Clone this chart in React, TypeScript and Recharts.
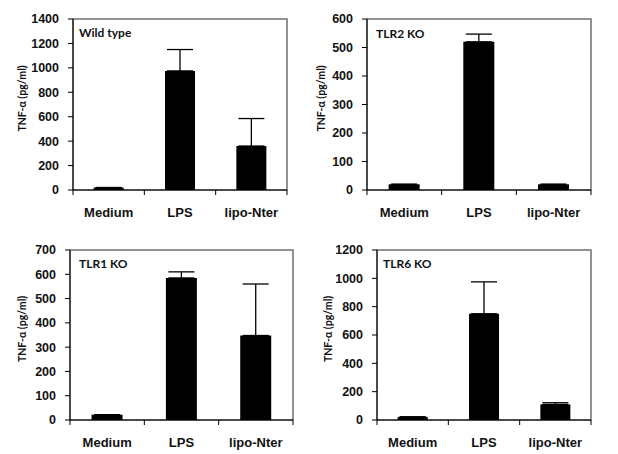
import { BarChart, Bar, XAxis, YAxis, ErrorBar, ReferenceArea } from 'recharts';

const categories = ['Medium', 'LPS', 'lipo-Nter'];

const wildTypeMean = [20, 975, 360];
const wildTypeErr = [0, 175, 225];
const tlr2Mean = [20, 520, 20];
const tlr2Err = [0, 27, 0];
const tlr1Mean = [22, 585, 348];
const tlr1Err = [0, 25, 212];
const tlr6Mean = [22, 750, 110];
const tlr6Err = [0, 225, 12];

const wildTypeTicks = [0, 200, 400, 600, 800, 1000, 1200, 1400];
const tlr2Ticks = [0, 100, 200, 300, 400, 500, 600];
const tlr1Ticks = [0, 100, 200, 300, 400, 500, 600, 700];
const tlr6Ticks = [0, 200, 400, 600, 800, 1000, 1200];

const yLabel = 'TNF-α (pg/ml)';
const numFont = '"Liberation Sans", Arial, sans-serif';
const labelFont = 'Lato, "Open Sans", sans-serif';

interface PanelProps {
  left: number;
  top: number;
  title: string;
  mean: number[];
  err: number[];
  ticks: number[];
  axisW: number; // y axis area width
  axisH: number; // x axis area height
  mTop: number;
  mRight: number;
  labelX: number;
  titleDx: number;
  titleDy: number;
}

const W = 309;
const H = 227;

function Panel(p: PanelProps) {
  const rows = categories.map((c, i) => ({ name: c, v: p.mean[i], e: [0, p.err[i]] }));
  const max = p.ticks[p.ticks.length - 1];
  const halfBand = (W - p.axisW - p.mRight) / 6;

  const CatTick = (t: any) => {
    const { x, y, payload, index } = t;
    return (
      <g>
        <line x1={x - halfBand} y1={y} x2={x - halfBand} y2={y + 5} stroke="#000" />
        {index === categories.length - 1 && (
          <line x1={x + halfBand} y1={y} x2={x + halfBand} y2={y + 5} stroke="#000" />
        )}
        <text x={x} y={y + 27} textAnchor="middle" fontFamily={numFont} fontWeight="bold" fontSize={13} fill="#111">
          {payload.value}
        </text>
      </g>
    );
  };

  const AxisTitle = (lp: any) => {
    const vb = lp.viewBox || {};
    const cx = (vb.x ?? 0) + p.labelX;
    const cy = (vb.y ?? 0) + (vb.height ?? 0) / 2 - 6;
    return (
      <text x={cx} y={cy} transform={`rotate(-90 ${cx} ${cy})`} textAnchor="middle" dominantBaseline="central"
        fontFamily={labelFont} fontWeight="bold" fontSize={10.5} fill="#111">
        {yLabel}
      </text>
    );
  };

  return (
    <div style={{ position: 'absolute', left: p.left, top: p.top, width: W, height: H }}>
      <BarChart
        width={W}
        height={H}
        data={rows}
        margin={{ top: p.mTop, right: p.mRight, bottom: 0, left: 0 }}
        barCategoryGap="29%"
      >
        <ReferenceArea
          y1={0}
          y2={max}
          fill="none"
          stroke="#707070"
          strokeWidth={1.5}
          ifOverflow="visible"
          label={(lp: any) => {
            const vb = lp.viewBox || {};
            return (
              <text x={(vb.x ?? 0) + p.titleDx} y={(vb.y ?? 0) + p.titleDy} fontFamily={labelFont} fontWeight="bold" fontSize={12} fill="#111">
                {p.title}
              </text>
            );
          }}
        />
        <XAxis
          dataKey="name"
          height={p.axisH}
          tickLine={false}
          tickSize={0}
          tickMargin={0}
          axisLine={{ stroke: '#000' }}
          tick={CatTick}
          interval={0}
        />
        <YAxis
          width={p.axisW}
          domain={[0, max]}
          ticks={p.ticks}
          interval={0}
          tickSize={5}
          tickMargin={9}
          axisLine={{ stroke: '#000' }}
          tickLine={{ stroke: '#000' }}
          tick={{ fontFamily: numFont, fontWeight: 'bold', fontSize: 12.5, fill: '#111' }}
          label={AxisTitle}
        />
        <Bar dataKey="v" fill="#000" isAnimationActive={false}>
          <ErrorBar dataKey="e" direction="y" width={13} stroke="#000" strokeWidth={1.3} isAnimationActive={false} />
        </Bar>
      </BarChart>
    </div>
  );
}

export default function App() {
  return (
    <div style={{ position: 'absolute', left: 0, top: 0, width: 618, height: 454, background: '#fff' }}>
      <Panel left={0} top={0} title="Wild type" mean={wildTypeMean} err={wildTypeErr} ticks={wildTypeTicks}
        axisW={73} axisH={37} mTop={19} mRight={22} labelX={22} titleDx={6} titleDy={18} />
      <Panel left={309} top={0} title="TLR2 KO" mean={tlr2Mean} err={tlr2Err} ticks={tlr2Ticks}
        axisW={58} axisH={37} mTop={19} mRight={27} labelX={12} titleDx={9} titleDy={19} />
      <Panel left={0} top={227} title="TLR1 KO" mean={tlr1Mean} err={tlr1Err} ticks={tlr1Ticks}
        axisW={70} axisH={34} mTop={23} mRight={16} labelX={22} titleDx={9} titleDy={18} />
      <Panel left={309} top={227} title="TLR6 KO" mean={tlr6Mean} err={tlr6Err} ticks={tlr6Ticks}
        axisW={68} axisH={34} mTop={23} mRight={27} labelX={19} titleDx={6} titleDy={18} />
    </div>
  );
}
